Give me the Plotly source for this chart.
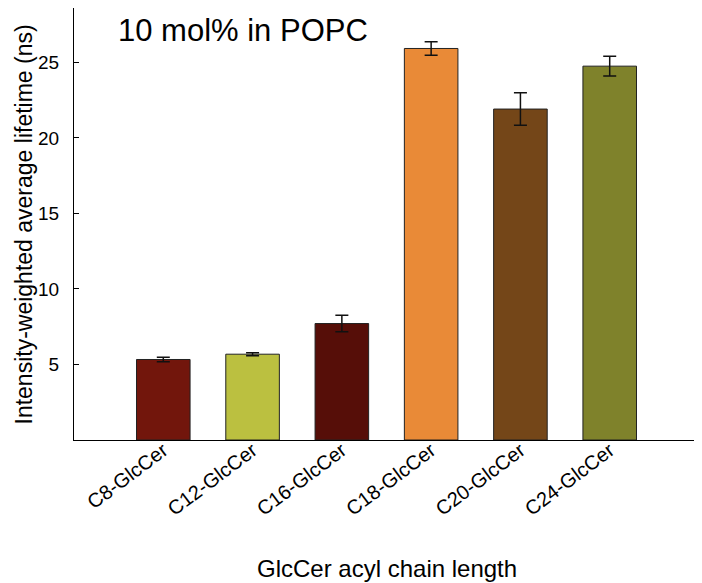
import plotly.graph_objects as go

categories = ["C8-GlcCer", "C12-GlcCer", "C16-GlcCer", "C18-GlcCer", "C20-GlcCer", "C24-GlcCer"]
lifetime = [5.33, 5.68, 7.71, 25.92, 21.91, 24.75]
errors = [0.15, 0.1, 0.55, 0.44, 1.08, 0.66]
colors = ["#72160C", "#BBC040", "#560E08", "#E98A37", "#744618", "#7F822B"]
y_ticks = [5, 10, 15, 20, 25]

FONT = "Liberation Sans, Arial, Helvetica, sans-serif"

fig = go.Figure()
fig.add_trace(go.Bar(
    x=categories,
    y=lifetime,
    width=0.6,
    marker=dict(color=colors, line=dict(color="#222222", width=1)),
    error_y=dict(type="data", array=errors, visible=True, color="#111111", thickness=1.5, width=6.5),
))

fig.update_layout(
    width=694, height=575,
    margin=dict(l=66, r=3, t=0, b=143),
    plot_bgcolor="white", paper_bgcolor="white",
    showlegend=False,
    font=dict(family=FONT, color="black"),
    xaxis=dict(
        type="category",
        range=[-1, 6],
        automargin=False,
        showline=True, linecolor="black", linewidth=1,
        ticks="", tickangle=-37,
        tickfont=dict(size=20, family=FONT),
        ticklabelstandoff=-10,
        showgrid=False, zeroline=False,
    ),
    yaxis=dict(
        range=[0, 28.6],
        automargin=False,
        tickvals=y_ticks,
        showline=True, linecolor="black", linewidth=1,
        ticks="inside", ticklen=5, tickcolor="black",
        tickfont=dict(size=19, family=FONT),
        ticklabelstandoff=10,
        showgrid=False, zeroline=False,
    ),
    annotations=[
        dict(
            text="10 mol% in POPC", x=0.2696, y=0.949, xref="paper", yref="paper",
            xanchor="center", yanchor="middle", showarrow=False,
            font=dict(size=31, family=FONT, color="black"),
        ),
        dict(
            text="GlcCer acyl chain length", x=0.5, y=-0.2986, xref="paper", yref="paper",
            xanchor="center", yanchor="middle", showarrow=False,
            font=dict(size=24, family=FONT, color="black"),
        ),
        dict(
            text="Intensity-weighted average lifetime (ns)", x=-0.0808, y=0.4977,
            xref="paper", yref="paper", textangle=-90,
            xanchor="center", yanchor="middle", showarrow=False,
            font=dict(size=23, family=FONT, color="black"),
        ),
    ],
)

fig.write_html("out.html")
